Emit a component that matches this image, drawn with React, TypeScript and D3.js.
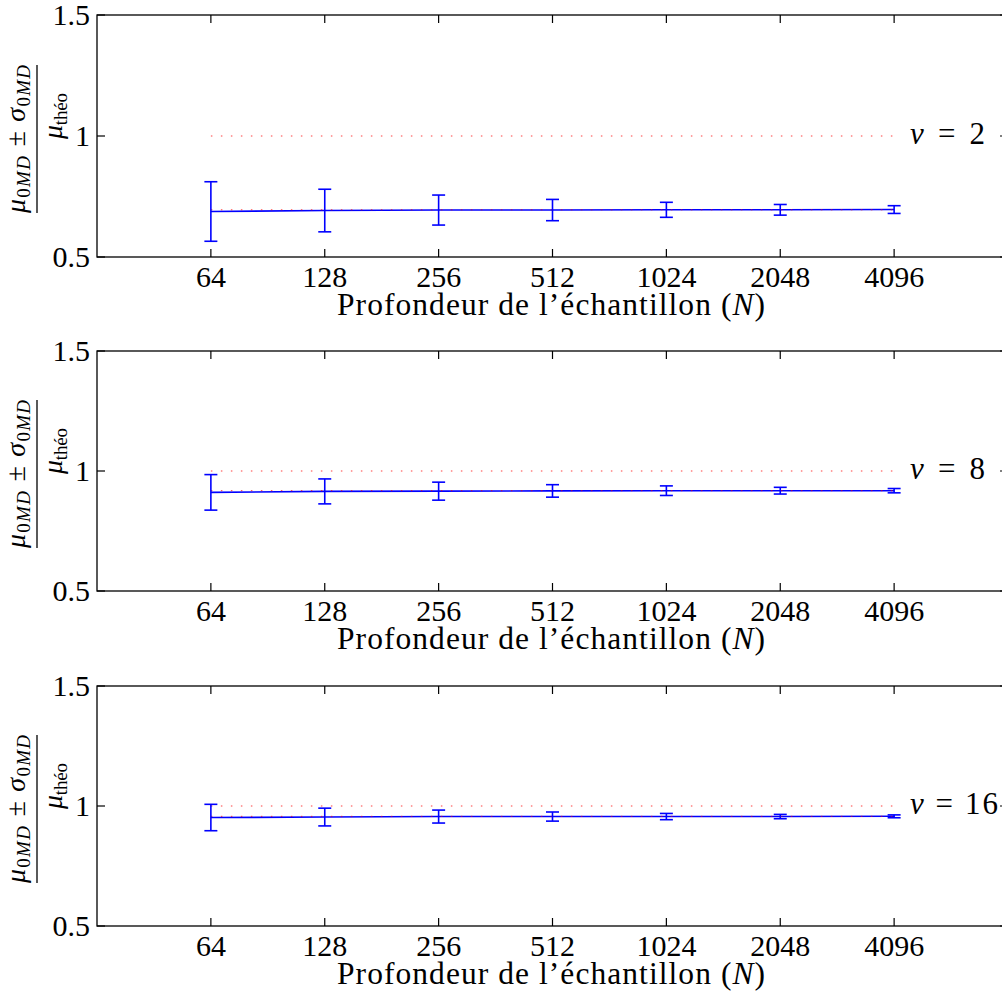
import React from "react";
import * as d3 from "d3";

const sampleSizes = [64, 128, 256, 512, 1024, 2048, 4096];
const nuLabels = ["2", "8", "16"];
const meanNu2 = [0.688, 0.692, 0.694, 0.694, 0.695, 0.695, 0.696];
const sigmaNu2 = [0.123, 0.088, 0.062, 0.044, 0.031, 0.022, 0.016];
const meanNu8 = [0.911, 0.915, 0.916, 0.917, 0.918, 0.918, 0.918];
const sigmaNu8 = [0.074, 0.052, 0.0375, 0.026, 0.02, 0.014, 0.009];
const meanNu16 = [0.952, 0.954, 0.956, 0.956, 0.956, 0.956, 0.957];
const sigmaNu16 = [0.055, 0.037, 0.027, 0.019, 0.013, 0.009, 0.006];
const asymptotes = [0.695, 0.918, 0.957];
const yTicks = [0.5, 1, 1.5];
const yTickLabels = ["0.5", "1", "1.5"];
const xLabel = "Profondeur de l\u2019\u00e9chantillon (";

const means = [meanNu2, meanNu8, meanNu16];
const sigmas = [sigmaNu2, sigmaNu8, sigmaNu16];

const FONT = "'Liberation Serif', 'Times New Roman', serif";
const panels = [
  { top: 15, bottom: 257 },
  { top: 351, bottom: 591 },
  { top: 686, bottom: 926 },
];
const LEFT = 97;
const RIGHT = 1008;
const TICK = 8;

function Panel({ idx }: { idx: number }) {
  const { top, bottom } = panels[idx];
  const x = d3.scaleLog().base(2).domain([32, 8192]).range([LEFT, RIGHT]);
  const y = d3.scaleLinear().domain([0.5, 1.5]).range([bottom, top]);
  const m = means[idx];
  const s = sigmas[idx];
  const line = d3
    .line<number>()
    .x((_, i) => x(sampleSizes[i]))
    .y((v) => y(v));
  const cy = (top + bottom) / 2 + 3;
  const x0 = x(sampleSizes[0]);
  const x1 = x(sampleSizes[sampleSizes.length - 1]);
  const cap = 6.5;
  const nuLen = nuLabels[idx].length > 1 ? 88 : 75;
  return (
    <g>
      <line x1={x0} x2={x1} y1={y(1)} y2={y(1)} stroke="#ff0000" strokeWidth={1} strokeDasharray="1.5 8.5" opacity={0.75} />
      <path d={line(m) || ""} fill="none" stroke="#0000ff" strokeWidth={1.6} />
      <line x1={x0} x2={x1} y1={y(asymptotes[idx])} y2={y(asymptotes[idx])} stroke="#ff0000" strokeWidth={1} strokeDasharray="1.5 8.5" opacity={0.75} />
      {sampleSizes.map((n, i) => {
        const xi = x(n);
        const yt = y(m[i] + s[i]);
        const yb = y(m[i] - s[i]);
        return (
          <g key={n} stroke="#0000ff" strokeWidth={1.6}>
            <line x1={xi} x2={xi} y1={yt} y2={yb} />
            <line x1={xi - cap} x2={xi + cap} y1={yt} y2={yt} />
            <line x1={xi - cap} x2={xi + cap} y1={yb} y2={yb} />
          </g>
        );
      })}
      <rect x={LEFT} y={top} width={RIGHT - LEFT} height={bottom - top} fill="none" stroke="#000" strokeWidth={1.3} />
      {sampleSizes.map((n) => (
        <g key={"xt" + n} stroke="#000" strokeWidth={1.2}>
          <line x1={x(n)} x2={x(n)} y1={bottom} y2={bottom - TICK} />
          <line x1={x(n)} x2={x(n)} y1={top} y2={top + TICK} />
        </g>
      ))}
      {sampleSizes.map((n) => (
        <text key={"xl" + n} x={x(n)} y={bottom + 30} textAnchor="middle" fontFamily={FONT} fontSize={30} fill="#000">
          {String(n)}
        </text>
      ))}
      {yTicks.map((t, i) => (
        <g key={"yt" + t}>
          <line x1={LEFT} x2={LEFT + TICK} y1={y(t)} y2={y(t)} stroke="#000" strokeWidth={1.2} />
          <line x1={RIGHT} x2={RIGHT - TICK} y1={y(t)} y2={y(t)} stroke="#000" strokeWidth={1.2} />
          <text x={90} y={y(t) + 10} textAnchor="end" fontFamily={FONT} fontSize={30} fill="#000">
            {yTickLabels[i]}
          </text>
        </g>
      ))}
      <text x={337} y={bottom + 58} textLength={428} lengthAdjust="spacing" fontFamily={FONT} fontSize={31.5} fill="#000">
        {xLabel}
        <tspan fontStyle="italic">N</tspan>
        {")"}
      </text>
      <text x={910} y={y(1) + 8} textLength={nuLen} lengthAdjust="spacing" fontFamily={FONT} fontSize={31} fill="#000">
        <tspan fontStyle="italic">{"\u03bd"}</tspan>
        {" = " + nuLabels[idx]}
      </text>
      <g transform={`translate(37,${cy}) rotate(-90)`} fontFamily={FONT} fill="#000">
        <text x={-74} y={-12} textLength={148} lengthAdjust="spacing" fontSize={28}>
          <tspan fontStyle="italic">{"\u03bc"}</tspan>
          <tspan fontSize={19} dy={5}>0</tspan>
          <tspan fontStyle="italic" fontSize={19}>MD</tspan>
          <tspan dy={-5}>{" \u00b1 "}</tspan>
          <tspan fontStyle="italic">{"\u03c3"}</tspan>
          <tspan fontSize={19} dy={5}>0</tspan>
          <tspan fontStyle="italic" fontSize={19}>MD</tspan>
        </text>
        <line x1={-74} x2={74} y1={0} y2={0} stroke="#000" strokeWidth={1.3} />
        <text x={0} y={25} textLength={46} lengthAdjust="spacing" fontSize={28}>
          <tspan fontStyle="italic">{"\u03bc"}</tspan>
          <tspan fontSize={19} dy={5}>{"th\u00e9o"}</tspan>
        </text>
      </g>
    </g>
  );
}

export default function App() {
  return (
    <svg
      width={1002}
      height={996}
      style={{ position: "absolute", left: 0, top: 0, background: "#fff" }}
    >
      <rect x={0} y={0} width={1002} height={996} fill="#fff" />
      {panels.map((_, i) => (
        <Panel key={i} idx={i} />
      ))}
    </svg>
  );
}
